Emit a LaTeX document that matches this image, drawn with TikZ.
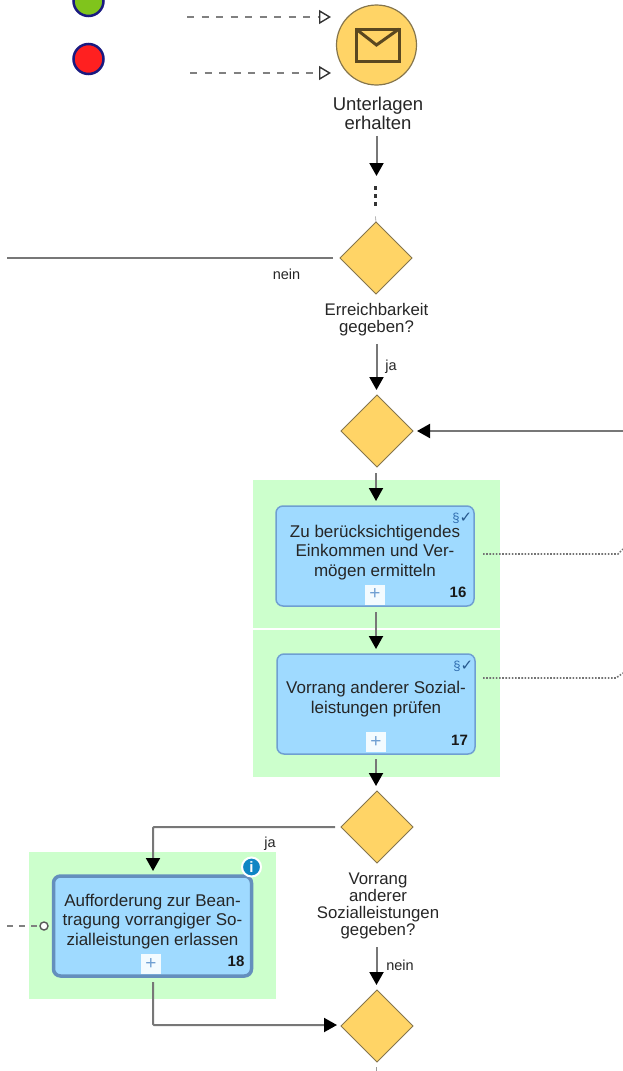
\documentclass[tikz,border=0pt]{standalone}
\usepackage{fontspec}
\setmainfont{Liberation Sans}
\newfontfamily\symfont{DejaVu Sans}
\usetikzlibrary{arrows.meta,shapes.geometric}
\definecolor{gatefill}{HTML}{FFD466}
\definecolor{gateline}{HTML}{85754C}
\definecolor{taskfill}{HTML}{9FDAFF}
\definecolor{taskline}{HTML}{6F9FD2}
\definecolor{zonefill}{HTML}{CCFFCC}
\definecolor{flowline}{HTML}{777777}
\definecolor{msgline}{HTML}{808080}
\definecolor{envline}{HTML}{5A4820}
\definecolor{markblue}{HTML}{2F6DB0}
\definecolor{infoblue}{HTML}{0F86C4}
\definecolor{okgreen}{HTML}{80C41C}
\definecolor{failred}{HTML}{FF2020}
\definecolor{dotedge}{HTML}{1A1A80}
\begin{document}
\begin{tikzpicture}[x=1pt,y=-1pt]
	\tikzstyle{every node}+=[inner sep=0pt,outer sep=0pt]
	\tikzstyle{gate}=[diamond,aspect=1,draw=gateline,fill=gatefill,line width=1pt,minimum width=72pt,minimum height=72pt]
	\tikzstyle{zone}=[fill=zonefill,minimum width=247pt]
	\tikzstyle{task}=[draw=taskline,fill=taskfill,rounded corners=7pt,line width=1.5pt,minimum width=198pt,minimum height=100pt]
	\tikzstyle{tasktext}=[align=center,font=\fontsize{17}{19.5}\selectfont,text=black!85]
	\tikzstyle{caption}=[align=center,font=\fontsize{16.8}{17}\selectfont,text=black!85]
	\tikzstyle{small}=[font=\fontsize{14.5}{17}\selectfont,text=black!85]
	\tikzstyle{number}=[font=\fontsize{15}{17}\selectfont\bfseries,text=black!90]
	\tikzstyle{plusbox}=[fill=white!88!taskfill,text=taskline,minimum width=20pt,minimum height=20pt,font=\fontsize{19}{19}\selectfont]
	\tikzstyle{marks}=[text=markblue,font=\fontsize{13}{13}\selectfont]
	\tikzstyle{tick}=[text=markblue!80!black,font=\symfont\fontsize{15}{15}\selectfont]
	\tikzstyle{flow}=[draw=flowline,line width=2pt,-{Triangle[length=13pt,width=14pt,color=black]}]
	\tikzstyle{plain}=[draw=flowline,line width=2pt]
	\tikzstyle{msg}=[draw=msgline,line width=2.6pt,dash pattern=on 7pt off 7.5pt,-{Triangle[open,length=12pt,width=14pt,color=black!80,line width=1.4pt]}]
	\tikzstyle{lane}=[draw=black!55,line width=1.6pt,dash pattern=on 1.6pt off 1.6pt]
	\useasboundingbox (0,0) rectangle (623,1071);
	% green zones
	\node [zone,minimum height=148pt] (zoneA) at (376.5,554) {};
	\node [zone,minimum height=147pt] (zoneB) at (376.5,703.5) {};
	\node [zone,minimum height=147pt] (zoneC) at (152.5,925.5) {};
	% start events
	\node [circle,draw=dotedge,fill=okgreen,line width=2.5pt,minimum size=30pt] (okdot) at (88.5,1) {};
	\node [circle,draw=dotedge,fill=failred,line width=2.5pt,minimum size=30pt] (faildot) at (88.5,59) {};
	\node [circle,draw=gateline,fill=gatefill,line width=1.2pt,minimum size=80pt] (received) at (376.5,45) {};
	\draw [envline,line width=3pt] (356,29) rectangle (399,61.5);
	\draw [envline,line width=3pt] (356,29) -- (376.5,45) -- (399,29);
	\node [caption,font=\fontsize{18.5}{19}\selectfont] (receivedtext) at (378,113.5) {Unterlagen\\erhalten};
	% gateways
	\node [gate] (reach) at (376,258) {};
	\node [caption] (reachtext) at (376.5,319.5) {Erreichbarkeit\\gegeben?};
	\node [gate] (merge) at (377,431) {};
	\node [gate] (prior) at (377,827) {};
	\node [caption] (priortext) at (378,906) {Vorrang\\anderer\\Sozialleistungen\\gegeben?};
	\node [gate] (join) at (377,1026) {};
	% tasks
	\node [task] (taskA) at (375,556) {};
	\node [tasktext] at (375,552.5) {Zu berücksichtigendes\\Einkommen und Ver-\\mögen ermitteln};
	\node [task] (taskB) at (376,704) {};
	\node [tasktext] at (376,699) {Vorrang anderer Sozial-\\leistungen prüfen};
	\node [task,line width=3.5pt,draw=taskline!90!black] (taskC) at (152.5,926) {};
	\node [tasktext] at (152.5,921.5) {Aufforderung zur Bean-\\tragung vorrangiger So-\\zialleistungen erlassen};
	\node [plusbox] at (375,594.5) {+};
	\node [plusbox] at (376,742) {+};
	\node [plusbox] at (151,964) {+};
	\node [number] at (458,592) {16};
	\node [number] at (459.5,740) {17};
	\node [number] at (236,961) {18};
	\node [marks] at (456,518.5) {§};
	\node [tick] at (466,518) {✓};
	\node [marks] at (457,666.5) {§};
	\node [tick] at (467,666) {✓};
	% info badge
	\node [circle,draw=white,fill=infoblue,line width=2pt,minimum size=19pt,text=white,font=\fontsize{15}{15}\selectfont\bfseries] (info) at (251.5,867) {i};
	% free ends
	\coordinate (msgA) at (187,17);
	\coordinate (msgB) at (190,73);
	\coordinate (laneend) at (7,258);
	\coordinate (backin) at (623,431);
	\coordinate (corner1) at (153,827);
	\coordinate (corner2) at (153,1025);
	\coordinate (laneA) at (483,554);
	\coordinate (laneAend) at (623,549);
	\coordinate (laneB) at (483,678);
	\coordinate (laneBend) at (623,673);
	\coordinate (stub) at (7,926);
	\node [circle,draw=black!65,fill=white,line width=1.4pt,minimum size=8pt] (attach) at (44,926) {};
	\coordinate (dotstop) at (375.5,207);
	% connectors
	\draw [msg] (msgA) -- (331,17);
	\draw [msg] (msgB) -- (331,73);
	\draw [flow,shorten <=6pt] (receivedtext.south) ++(-1.5,0) -- (376.5,176);
	\draw [line width=3pt,black!80,dash pattern=on 3.5pt off 4.5pt] (375.5,186) -- (dotstop);
	\draw [black!40,line width=.6pt] (375.5,216.5) -- (reach.north);
	\draw [plain,shorten <=7pt] (reach.west) -- (laneend);
	\node [small] at (286.5,274) {nein};
	\draw [flow,shorten <=8pt,shorten >=5pt] (reachtext.south) -- (376.5,395);
	\node [small] at (391,367) {ja};
	\draw [flow,shorten >=4pt] (backin) -- (merge.east);
	\draw [flow,shorten >=5pt] (376,473) -- (376,506);
	\draw [flow,shorten <=6pt,shorten >=5pt] (taskA.south) ++(1,0) -- (376,654);
	\draw [flow,shorten <=5pt,shorten >=5pt] (taskB.south) -- (376,791);
	\draw [plain,rounded corners=1pt,-{Triangle[length=13pt,width=14pt,color=black]},shorten >=5pt,shorten <=6pt] (prior.west) -- (corner1) -- (taskC.north -| corner1);
	\node [small] at (270,844) {ja};
	\draw [flow,shorten <=8pt,shorten >=5pt] (priortext.south) ++(-1.5,0) -- (376.5,990);
	\node [small] at (400,965) {nein};
	\draw [plain,rounded corners=1pt,-{Triangle[length=13pt,width=14pt,color=black]},shorten <=6pt,shorten >=4pt] (taskC.south -| corner2) -- (corner2) -- (join.west |- corner2);
	\draw [black!40,line width=.6pt] (376,1067) -- (376,1071);
	\draw [msgline,line width=2.6pt,dash pattern=on 6pt off 6pt] (stub) -- (attach.west);
	\draw [lane] (laneA) -- (618,554) -- (laneAend);
	\draw [lane] (laneB) -- (616,678) -- (laneBend);
\end{tikzpicture}
\end{document}
